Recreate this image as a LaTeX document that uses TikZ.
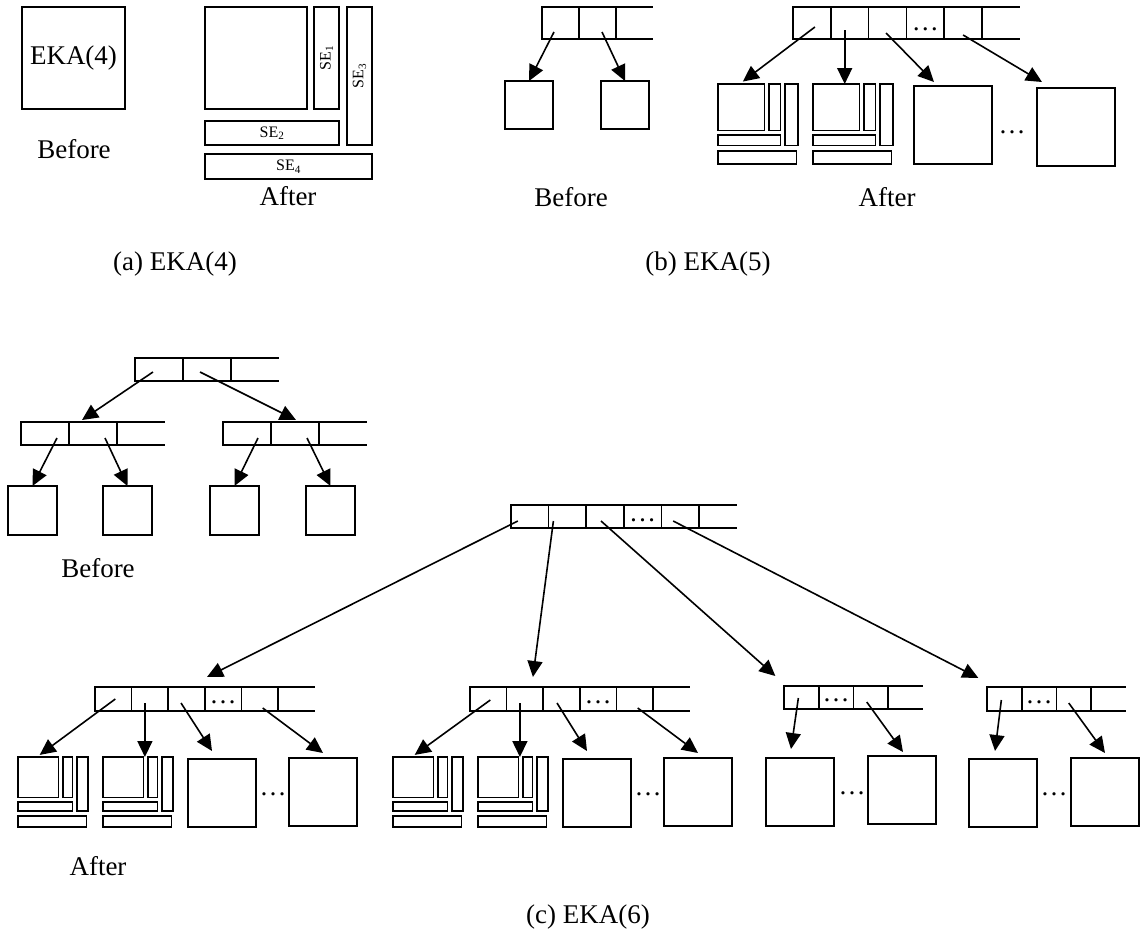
\documentclass[tikz,border=0pt]{standalone}
\usepackage{fontspec}
\setmainfont{Liberation Serif}
\usepackage{graphicx}
\usetikzlibrary{arrows.meta}
\newcommand\bigtext{\fontsize{27}{32}\selectfont}
\newcommand\setext{\fontsize{16}{19}\selectfont}
\tikzset{
  pics/keyrow/.style args={#1/#2/#3}{code={
    \foreach \i in {1,...,#1}
      \node[cell,minimum width=#2pt,minimum height=#3pt] (-\i) at ({(\i-1)*#2},0) {};
    \draw (-#1.north east) -- ++(#2,0) (-#1.south east) -- ++(#2,0);
  }},
  pics/split/.style={code={
    \draw (0,0) rectangle (58,58);
    \draw (64,0) rectangle (78,58);
    \draw (84,0) rectangle (100,77);
    \draw (0,64) rectangle (78,77);
    \draw (0,84) rectangle (98,100);
    \coordinate (-n) at (31,-3);
    \coordinate (-top) at (50,0);
  }}
}
\begin{document}
\begin{tikzpicture}[x=1pt,y=-1pt,line width=1.6pt,
  every node/.style={font=\bigtext},
  cell/.style={draw,inner sep=0pt,outer sep=0pt,anchor=north west},
  box/.style={draw,inner sep=0pt,outer sep=0pt,anchor=north west},
  lbl/.style={anchor=base,inner sep=0pt},
  gap/.style={anchor=base,inner sep=0pt},
  arr/.style={-{Triangle[length=16pt,width=15pt]}},
]
  \useasboundingbox (0,0) rectangle (1141,938);

  % (a) EKA(4)
  \node[box,minimum width=103pt,minimum height=102pt] (aold) at (22,7) {EKA(4)};
  \node[lbl] (abefore) at (74,158) {Before};
  \node[box,minimum width=102pt,minimum height=102pt] (amain) at (205,7) {};
  \node[box,minimum width=25pt,minimum height=102pt,font=\setext] (ase1) at (314,7) {\rotatebox{90}{SE\textsubscript{1}}};
  \node[box,minimum width=25pt,minimum height=138pt,font=\setext] (ase3) at (347,7) {\rotatebox{90}{SE\textsubscript{3}}};
  \node[box,minimum width=134pt,minimum height=24pt,font=\setext] (ase2) at (205,121) {SE\textsubscript{2}};
  \node[box,minimum width=167pt,minimum height=25pt,font=\setext] (ase4) at (205,154) {SE\textsubscript{4}};
  \node[lbl] (aafter) at (288,205) {After};
  \node[lbl] (acap) at (175,270) {(a) EKA(4)};

  % (b) EKA(5), before
  \pic (bA) at (542,7) {keyrow=2/37/32};
  \node[box,minimum size=48pt] (bL) at (505,81) {};
  \node[box,minimum size=48pt] (bR) at (601,81) {};
  \draw[arr] ([shift={(-6.5,9)}]bA-1.center) -- (bL.north);
  \draw[arr] ([shift={(4.5,9)}]bA-2.center) -- (bR.north);
  \node[lbl] (bbefore) at (571,206) {Before};

  % (b) EKA(5), after
  \pic (bB) at (793,7) {keyrow=5/37.8/32};
  \node[gap] (bBd) at ([shift={(0,7)}]bB-4.center) {\dots};
  \pic[scale=0.8] (bc1) at (718,84) {split};
  \pic[scale=0.8] (bc2) at (813,84) {split};
  \node[box,minimum size=78pt] (bB3) at (914,86) {};
  \node[box,minimum size=78pt] (bB4) at (1037,88) {};
  \node[gap] (bBg) at (1012,133) {\dots};
  \coordinate (bv) at ([shift={(-5,7)}]bB-2.center);
  \draw[arr] ([shift={(3,4)}]bB-1.center) -- (bc1-n);
  \draw[arr] (bv) -- (bv |- bc2-top);
  \draw[arr] ([shift={(-1.5,10)}]bB-3.center) -- ([shift={(-19,-4)}]bB3.north);
  \draw[arr] ([shift={(0,12)}]bB-5.center) -- ([shift={(-34,-6)}]bB4.north);
  \node[lbl] (bafter) at (887,206) {After};
  \node[lbl] (bcap) at (708,270) {(b) EKA(5)};

  % (c) EKA(6), before
  \pic (cT) at (135,358) {keyrow=2/48/23};
  \pic (cL) at (21,422) {keyrow=2/48/23};
  \pic (cR) at (223,422) {keyrow=2/48/23};
  \node[box,minimum size=49pt] (cl1) at (8,486) {};
  \node[box,minimum size=49pt] (cl2) at (103,486) {};
  \node[box,minimum size=49pt] (cl3) at (210,486) {};
  \node[box,minimum size=49pt] (cl4) at (306,486) {};
  \draw[arr] ([shift={(-6,2.5)}]cT-1.center) -- ([shift={(-11,-2)}]cL-2.north);
  \draw[arr] ([shift={(-7,2.5)}]cT-2.center) -- ([shift={(1,-2)}]cR-2.north);
  \draw[arr] ([shift={(12,4.5)}]cL-1.center) -- (cl1.north);
  \draw[arr] ([shift={(12,4.5)}]cL-2.center) -- (cl2.north);
  \draw[arr] ([shift={(11,4.5)}]cR-1.center) -- (cl3.north);
  \draw[arr] ([shift={(12,4.5)}]cR-2.center) -- (cl4.north);
  \node[lbl] (cbefore) at (98,577) {Before};

  % (c) EKA(6), after: root
  \pic (cA) at (511,505) {keyrow=5/37.6/23};
  \node[gap] (cAd) at ([shift={(0,4.5)}]cA-4.center) {\dots};
  \pic (cA1) at (95,687) {keyrow=5/36.6/24};
  \pic (cA2) at (470,687) {keyrow=5/36.6/24};
  \pic (cA3) at (784,686) {keyrow=3/34.7/23};
  \pic (cA4) at (987,687) {keyrow=3/34.7/24};
  \node[gap] (cA1d) at ([shift={(0,4)}]cA1-4.center) {\dots};
  \node[gap] (cA2d) at ([shift={(0,4)}]cA2-4.center) {\dots};
  \node[gap] (cA3d) at ([shift={(0,4)}]cA3-2.center) {\dots};
  \node[gap] (cA4d) at ([shift={(0,4)}]cA4-2.center) {\dots};
  \draw[arr] ([shift={(-12,4.5)}]cA-1.center) -- ([shift={(20.5,-10)}]cA1-3.north);
  \draw[arr] ([shift={(-14,4.5)}]cA-2.center) -- ([shift={(8,-10)}]cA2-2.north);
  \draw[arr] ([shift={(-4,4.5)}]cA-3.center) -- ([shift={(-26,-10)}]cA3-1.north);
  \draw[arr] ([shift={(-7,4.5)}]cA-5.center) -- ([shift={(-26,-9)}]cA4-1.north);

  % child 1
  \pic[scale=0.7] (cc1a) at (18,757) {split};
  \pic[scale=0.7] (cc1b) at (103,757) {split};
  \node[box,minimum size=68pt] (cc1c) at (188,759) {};
  \node[box,minimum size=68pt] (cc1d) at (289,758) {};
  \node[gap] (cc1g) at (273,795) {\dots};
  \coordinate (cv1) at ([shift={(-5,4)}]cA1-2.center);
  \draw[arr] ([shift={(2,0)}]cA1-1.center) -- (cc1a-n);
  \draw[arr] (cv1) -- (cv1 |- cc1b-top);
  \draw[arr] ([shift={(-5.5,4)}]cA1-3.center) -- ([shift={(-10,-8)}]cc1c.north);
  \draw[arr] ([shift={(3,9)}]cA1-5.center) -- ([shift={(0,-5)}]cc1d.north);

  % child 2
  \pic[scale=0.7] (cc2a) at (393,757) {split};
  \pic[scale=0.7] (cc2b) at (478,757) {split};
  \node[box,minimum size=68pt] (cc2c) at (563,759) {};
  \node[box,minimum size=68pt] (cc2d) at (664,758) {};
  \node[gap] (cc2g) at (648,795) {\dots};
  \coordinate (cv2) at ([shift={(-5,4)}]cA2-2.center);
  \draw[arr] ([shift={(2,1)}]cA2-1.center) -- (cc2a-n);
  \draw[arr] (cv2) -- (cv2 |- cc2b-top);
  \draw[arr] ([shift={(-4.5,4)}]cA2-3.center) -- ([shift={(-10,-8)}]cc2c.north);
  \draw[arr] ([shift={(3,9)}]cA2-5.center) -- ([shift={(0,-5)}]cc2d.north);

  % child 3
  \node[box,minimum size=68pt] (cc3a) at (766,758) {};
  \node[box,minimum size=68pt] (cc3b) at (868,756) {};
  \node[gap] (cc3g) at (852,794) {\dots};
  \draw[arr] ([shift={(-3,0.5)}]cA3-1.center) -- ([shift={(-9,-9)}]cc3a.north);
  \draw[arr] ([shift={(-4,4.5)}]cA3-3.center) -- ([shift={(1,-4)}]cc3b.north);

  % child 4
  \node[box,minimum size=68pt] (cc4a) at (969,759) {};
  \node[box,minimum size=68pt] (cc4b) at (1071,758) {};
  \node[gap] (cc4g) at (1054,795) {\dots};
  \draw[arr] ([shift={(-3,1)}]cA4-1.center) -- ([shift={(-8,-8)}]cc4a.north);
  \draw[arr] ([shift={(-5,4)}]cA4-3.center) -- ([shift={(0,-5)}]cc4b.north);

  \node[lbl] (cafter) at (98,875) {After};
  \node[lbl] (ccap) at (588,923) {(c) EKA(6)};
\end{tikzpicture}
\end{document}
